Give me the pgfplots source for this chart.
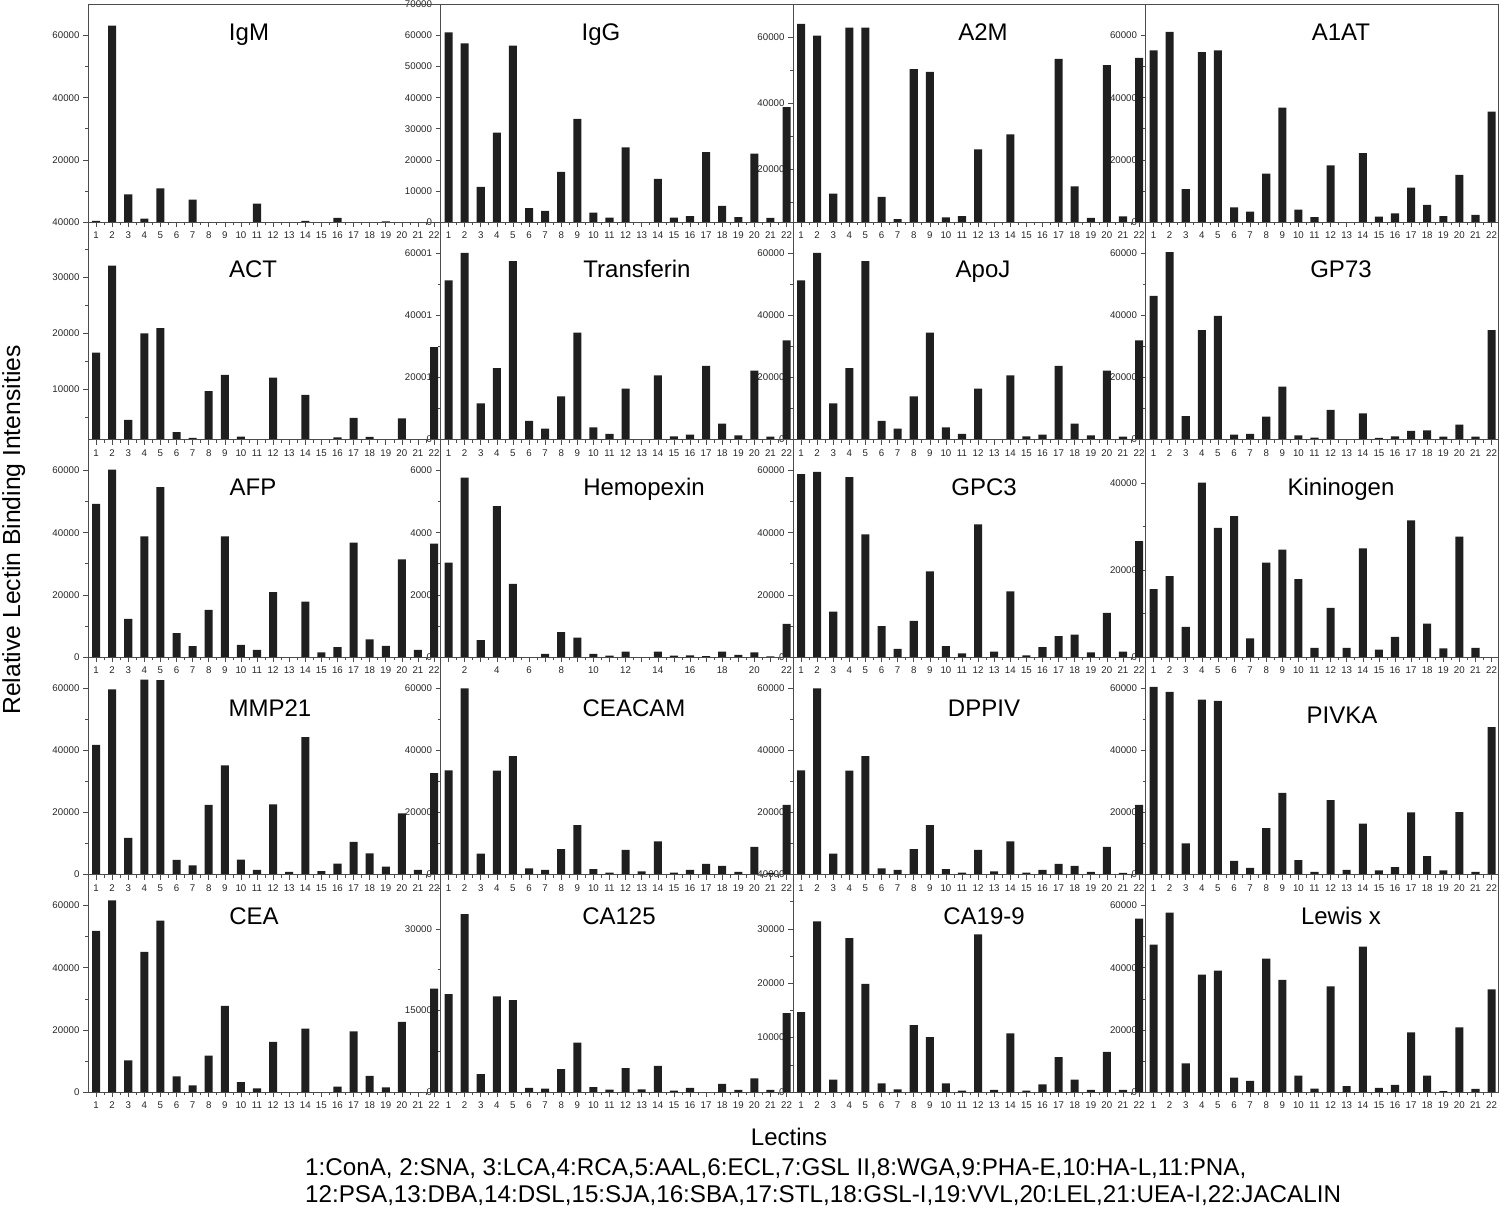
\documentclass[border=0pt]{standalone}
\usepackage{fontspec}
\setmainfont{Liberation Sans}
\usepackage{pgfplots}
\pgfplotsset{compat=1.18}

\pgfplotsset{
  panel/.style={
    scale only axis, width=352.5pt, height=217.5pt,
    xmin=0.5, xmax=22.4, ymin=0,
    axis line style={black!70, line width=0.8pt},
    xtick={1,...,22}, minor x tick num=1,
    xtick pos=bottom, ytick pos=left,
    tick align=outside,
    major tick length=5pt, minor tick length=3pt,
    tick style={black!70, line width=0.6pt},
    tick label style={font=\fontsize{9.7}{10}\selectfont, text=black!85},
    x tick label style={yshift=-1.5pt},
    scaled y ticks=false,
    /pgf/number format/assume math mode=true,
    /pgf/number format/1000 sep={},
    ybar, bar width=0.5,
  },
  std/.style={ytick={0,20000,40000,60000}, yticklabels={0,20000,40000,60000}, minor ytick={10000,30000,50000}},
  bars/.style={fill=black!88, draw=none},
}

\newcommand{\panel}[5]{%
\begin{axis}[panel, at={(#1pt,-#2pt)}, anchor=south west, ymax=#3, #4]
\addplot[bars] coordinates {#5};
\end{axis}}

\begin{document}
\begin{tikzpicture}
\path[use as bounding box] (0,0) rectangle (1500pt,-1207pt);

% ---------- Row 1 ----------
\panel{1145.5}{222}{70000}{std}{(1,55200) (2,61200) (3,10600) (4,54700) (5,55200) (6,4700) (7,3300) (8,15600) (9,36800) (10,4000) (11,1600) (12,18200) (13,0) (14,22200) (15,1700) (16,2800) (17,11100) (18,5500) (19,1900) (20,15200) (21,2300) (22,35500)}
\panel{793}{222}{70000}{ytick={17060,38300,59540}, yticklabels={20000,40000,60000}, minor ytick={6400,27700,48900}}{(1,63800) (2,60000) (3,9100) (4,62600) (5,62600) (6,8100) (7,900) (8,49200) (9,48300) (10,1500) (11,1900) (12,23400) (13,0) (14,28200) (15,0) (16,0) (17,52500) (18,11500) (19,1300) (20,50500) (21,1800) (22,52800)}
\panel{440.5}{222}{70000}{ytick={0,10000,20000,30000,40000,50000,60000,70000}, yticklabels={0,10000,20000,30000,40000,50000,60000,70000}}{(1,61000) (2,57500) (3,11300) (4,28800) (5,56800) (6,4500) (7,3600) (8,16100) (9,33200) (10,3000) (11,1400) (12,24000) (13,0) (14,13900) (15,1400) (16,1900) (17,22500) (18,5200) (19,1600) (20,22000) (21,1300) (22,37000)}
\panel{88}{222}{70000}{std, yticklabels={40000,20000,40000,60000}}{(1,400) (2,63200) (3,8900) (4,1070) (5,10840) (6,0) (7,7190) (8,0) (9,0) (10,0) (11,5900) (12,0) (13,0) (14,400) (15,0) (16,1300) (17,0) (18,0) (19,200) (20,0) (21,0) (22,0)}

% ---------- Row 2 ----------
\panel{1145.5}{439.5}{70000}{std}{(1,46200) (2,60300) (3,7500) (4,35200) (5,39800) (6,1600) (7,1800) (8,7400) (9,17000) (10,1300) (11,640) (12,9500) (13,0) (14,8400) (15,500) (16,1000) (17,2800) (18,2900) (19,900) (20,4800) (21,900) (22,35200)}
\panel{793}{439.5}{70000}{std}{(1,51200) (2,60100) (3,11600) (4,23000) (5,57400) (6,6000) (7,3500) (8,13900) (9,34400) (10,3900) (11,1800) (12,16400) (13,0) (14,20600) (15,1000) (16,1600) (17,23700) (18,5100) (19,1300) (20,22200) (21,900) (22,31900)}
\panel{440.5}{439.5}{70000}{std, yticklabels={0,20001,40001,60001}}{(1,51200) (2,60100) (3,11600) (4,23000) (5,57400) (6,6000) (7,3500) (8,13900) (9,34400) (10,3900) (11,1800) (12,16400) (13,0) (14,20600) (15,1000) (16,1600) (17,23700) (18,5100) (19,1300) (20,22200) (21,900) (22,31900)}
\panel{88}{439.5}{40000}{ytick={9300,19580,29850}, yticklabels={10000,20000,30000}, minor ytick={4170,14440,24700,35000}}{(1,16000) (2,32000) (3,3600) (4,19500) (5,20500) (6,1350) (7,300) (8,8900) (9,11900) (10,550) (11,0) (12,11400) (13,0) (14,8200) (15,0) (16,370) (17,4000) (18,500) (19,0) (20,3900) (21,0) (22,17000)}

% ---------- Row 3 ----------
\panel{1145.5}{657}{50000}{ytick={0,20000,40000}, yticklabels={0,20000,40000}, minor ytick={10000,30000}}{(1,15600) (2,18600) (3,6900) (4,40100) (5,29700) (6,32400) (7,4300) (8,21700) (9,24700) (10,17900) (11,2100) (12,11300) (13,2100) (14,25000) (15,1700) (16,4600) (17,31400) (18,7700) (19,2000) (20,27700) (21,2100) (22,0)}
\panel{793}{657}{70000}{std}{(1,58900) (2,59600) (3,14600) (4,57900) (5,39500) (6,9900) (7,2600) (8,11600) (9,27600) (10,3500) (11,1200) (12,42700) (13,1700) (14,21100) (15,540) (16,3200) (17,6700) (18,7200) (19,1500) (20,14200) (21,1700) (22,37300)}
\panel{440.5}{657}{7000}{ytick={0,2000,4000,6000}, yticklabels={0,2000,4000,6000}, minor ytick={1000,3000,5000}, xticklabels={{},2,{},4,{},6,{},8,{},10,{},12,{},14,{},16,{},18,{},20,{},22}}{(1,3040) (2,5770) (3,545) (4,4860) (5,2350) (6,0) (7,100) (8,800) (9,620) (10,100) (11,45) (12,170) (13,0) (14,170) (15,45) (16,55) (17,30) (18,170) (19,65) (20,150) (21,20) (22,1070)}
\panel{88}{657}{70000}{std}{(1,49300) (2,60300) (3,12300) (4,38800) (5,54700) (6,7700) (7,3500) (8,15200) (9,38800) (10,3900) (11,2300) (12,20900) (13,0) (14,17800) (15,1500) (16,3200) (17,36800) (18,5700) (19,3600) (20,31400) (21,2300) (22,36500)}

% ---------- Row 4 ----------
\panel{1145.5}{874.5}{70000}{std}{(1,60400) (2,58800) (3,10000) (4,56300) (5,55900) (6,4400) (7,2100) (8,14900) (9,26300) (10,4600) (11,860) (12,23900) (13,1500) (14,16400) (15,1300) (16,2400) (17,20000) (18,5900) (19,1300) (20,20100) (21,860) (22,47400)}
\panel{793}{874.5}{70000}{std, yticklabels={40000,20000,40000,60000}}{(1,33500) (2,59900) (3,6700) (4,33400) (5,38100) (6,2000) (7,1500) (8,8200) (9,15900) (10,1700) (11,640) (12,7900) (13,970) (14,10700) (15,640) (16,1500) (17,3400) (18,2800) (19,860) (20,8900) (21,540) (22,22400)}
\panel{440.5}{874.5}{70000}{std}{(1,33500) (2,59900) (3,6700) (4,33400) (5,38100) (6,2000) (7,1500) (8,8200) (9,15900) (10,1700) (11,640) (12,7900) (13,970) (14,10700) (15,640) (16,1500) (17,3400) (18,2800) (19,860) (20,8900) (21,540) (22,22400)}
\panel{88}{874.5}{70000}{std}{(1,41700) (2,59600) (3,11800) (4,62700) (5,62600) (6,4700) (7,2900) (8,22400) (9,35100) (10,4800) (11,1500) (12,22600) (13,860) (14,44200) (15,1100) (16,3500) (17,10500) (18,6800) (19,2500) (20,19700) (21,1500) (22,32600)}

% ---------- Row 5 ----------
\panel{1145.5}{1092}{70000}{std}{(1,47400) (2,57700) (3,9200) (4,37800) (5,39100) (6,4600) (7,3600) (8,42900) (9,36100) (10,5300) (11,1100) (12,34000) (13,1900) (14,46800) (15,1300) (16,2300) (17,19200) (18,5300) (19,320) (20,20800) (21,970) (22,33000)}
\panel{793}{1092}{40000}{ytick={0,10000,20000,30000}, yticklabels={0,10000,20000,30000}, minor ytick={5000,15000,25000,35000}}{(1,14700) (2,31400) (3,2300) (4,28300) (5,19900) (6,1600) (7,490) (8,12300) (9,10100) (10,1600) (11,250) (12,29000) (13,370) (14,10800) (15,250) (16,1400) (17,6400) (18,2300) (19,370) (20,7400) (21,370) (22,31900)}
\panel{440.5}{1092}{40000}{ytick={0,15000,30000}, yticklabels={0,15000,30000}, minor ytick={7500,22500,37500}}{(1,18000) (2,32700) (3,3300) (4,17600) (5,16900) (6,740) (7,610) (8,4200) (9,9100) (10,920) (11,430) (12,4400) (13,490) (14,4800) (15,250) (16,740) (17,0) (18,1500) (19,370) (20,2500) (21,370) (22,14500)}
\panel{88}{1092}{70000}{std}{(1,51900) (2,61700) (3,10200) (4,45100) (5,55200) (6,5000) (7,2100) (8,11700) (9,27700) (10,3200) (11,1200) (12,16100) (13,0) (14,20400) (15,0) (16,1700) (17,19500) (18,5200) (19,1500) (20,22600) (21,0) (22,33300)}

% ---------- Titles ----------
\begin{scope}[every node/.style={anchor=base, font=\fontsize{24}{24}\selectfont}]
\node at (249pt,-41pt) {IgM};
\node at (601pt,-41pt) {IgG};
\node at (983pt,-41pt) {A2M};
\node at (1341pt,-41pt) {A1AT};
\node at (253pt,-277pt) {ACT};
\node at (637pt,-277pt) {Transferin};
\node at (983pt,-277pt) {ApoJ};
\node at (1341pt,-277pt) {GP73};
\node at (253pt,-495pt) {AFP};
\node at (644pt,-495pt) {Hemopexin};
\node at (984pt,-495pt) {GPC3};
\node at (1341pt,-495pt) {Kininogen};
\node at (270pt,-716pt) {MMP21};
\node at (634pt,-716pt) {CEACAM};
\node at (984pt,-716pt) {DPPIV};
\node at (1342pt,-723pt) {PIVKA};
\node at (254pt,-924pt) {CEA};
\node at (619pt,-924pt) {CA125};
\node at (984pt,-924pt) {CA19-9};
\node at (1341pt,-924pt) {Lewis x};
\end{scope}

% ---------- Axis labels and legend text ----------
\node[rotate=90, anchor=base, font=\fontsize{24.7}{25}\selectfont] at (20pt,-530pt) {Relative Lectin Binding Intensities};
\node[anchor=base, font=\fontsize{24}{25}\selectfont] at (789pt,-1145pt) {Lectins};
\node[anchor=base west, inner sep=0pt, font=\fontsize{24.2}{25}\selectfont] at (305pt,-1175pt) {1:ConA, 2:SNA, 3:LCA,4:RCA,5:AAL,6:ECL,7:GSL II,8:WGA,9:PHA-E,10:HA-L,11:PNA,};
\node[anchor=base west, inner sep=0pt, font=\fontsize{24.2}{25}\selectfont] at (305pt,-1202pt) {12:PSA,13:DBA,14:DSL,15:SJA,16:SBA,17:STL,18:GSL-I,19:VVL,20:LEL,21:UEA-I,22:JACALIN};
\end{tikzpicture}
\end{document}
